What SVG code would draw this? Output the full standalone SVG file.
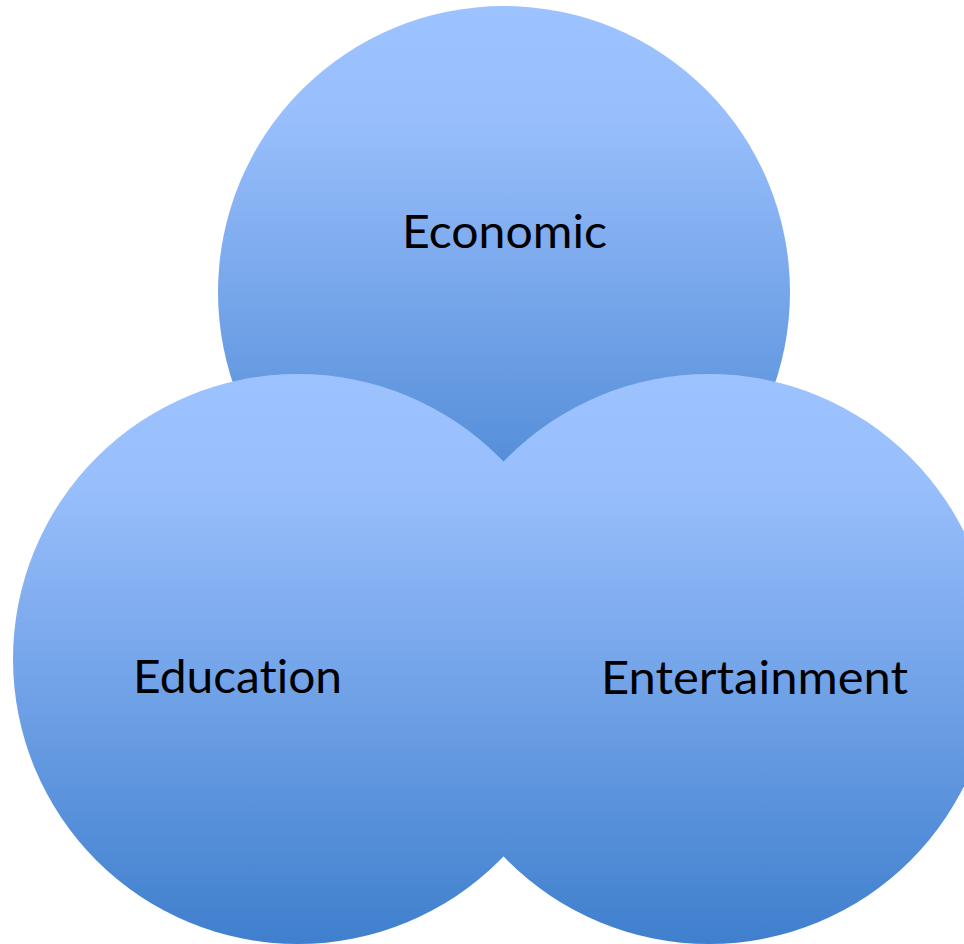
<svg xmlns="http://www.w3.org/2000/svg" width="964" height="944" viewBox="0 0 964 944">
  <defs>
    <linearGradient id="blueFill" x1="0" y1="0" x2="0" y2="1">
      <stop offset="0" stop-color="#9CC2FF"/>
      <stop offset="0.2" stop-color="#98BEFC"/>
      <stop offset="1" stop-color="#3F7FCD"/>
    </linearGradient>
  </defs>
  <style>
    .circle { fill: url(#blueFill); }
    .label { font-family: "Lato", "Open Sans", "Liberation Sans", sans-serif; font-size: 46px; fill: #000000; font-variant-ligatures: none; font-feature-settings: "liga" 0, "clig" 0; }
  </style>
  <rect width="964" height="944" fill="#FFFFFF"/>
  <g id="connectors"></g>
  <g id="node-economic">
    <circle class="circle" cx="504" cy="292" r="286"/>
    <text class="label" x="402" y="248" textLength="205" lengthAdjust="spacingAndGlyphs">Economic</text>
  </g>
  <g id="node-education">
    <circle class="circle" cx="298" cy="659" r="285"/>
    <text class="label" x="133" y="693" textLength="209" lengthAdjust="spacingAndGlyphs">Education</text>
  </g>
  <g id="node-entertainment">
    <circle class="circle" cx="709" cy="659" r="285"/>
    <text class="label" x="601" y="694" textLength="307" lengthAdjust="spacingAndGlyphs">Entertainment</text>
  </g>
</svg>
